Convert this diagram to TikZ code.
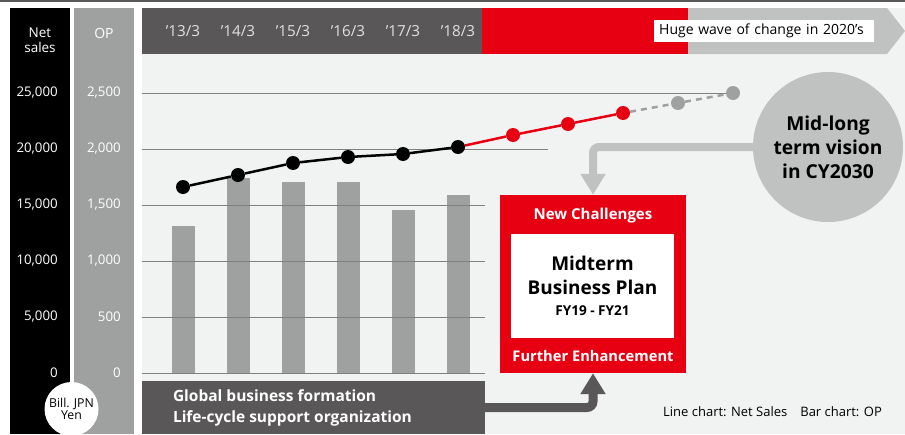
\documentclass[tikz,border=0pt]{standalone}
\usepackage{fontspec}
\setmainfont{Open Sans}
\usetikzlibrary{arrows.meta}

\definecolor{hcdark}{HTML}{595757}
\definecolor{hcred}{HTML}{E60012}
\definecolor{hclight}{HTML}{C0C1C1}
\definecolor{hcbar}{HTML}{9FA0A0}
\definecolor{hcbg}{HTML}{F1F2F2}
\definecolor{hcgrid}{HTML}{808080}

\tikzset{
  axislabel/.style={anchor=east, text=white, inner sep=0pt, font=\fontsize{13.3}{15}\selectfont},
  yearlabel/.style={text=hcbg!90!hcdark, font=\fontsize{15.2}{17}\selectfont},
  salesdot/.style={circle, fill=#1, inner sep=0pt, minimum size=14pt},
  opbar/.style={fill=hcbar},
  gridline/.style={hcgrid, line width=1pt},
  bigarrow/.style={line width=#1, rounded corners=6pt, -{Triangle[length=21pt,width=24pt]}},
}

\begin{document}
\begin{tikzpicture}[x=1pt, y=-1pt]
  \useasboundingbox (0,0) rectangle (905,434);

  % Background
  \fill[white] (0,0) rectangle (905,434);
  \fill[hcbg] (142,8) rectangle (905,434);
  \draw[hcdark, line width=1.5pt] (0,0.75) -- (905,0.75);

  % Axis columns
  \fill[black] (10,8) rectangle (70,434);
  \fill[hcbar] (74,8) rectangle (134,434);
  \node[text=white, align=center, font=\fontsize{13.5}{15}\selectfont] (nshead) at (40,40) {Net\\sales};
  \node[text=white, font=\fontsize{14}{16}\selectfont] (ophead) at (104,33) {OP};
  \foreach \ns/\op [count=\i from 0] in {0/0, {5,000}/500, {10,000}/{1,000}, {15,000}/{1,500}, {20,000}/{2,000}, {25,000}/{2,500}} {
    \node[axislabel] (ns\i) at (58,373-56*\i) {\ns};
    \node[axislabel] (op\i) at (121,373-56*\i) {\op};
  }
  \node[circle, fill=white, minimum size=54pt, inner sep=0pt, align=center, font=\fontsize{12.3}{11.5}\selectfont] (unit) at (71.5,409) {Bill. JPN\\Yen};

  % Year header
  \fill[hcdark] (142,8) rectangle (482,54);
  \fill[hcred] (482,8) rectangle (688,54);
  \fill[hclight] (688,8) -- (887,8) -- (905,31) -- (887,54) -- (688,54) -- cycle;
  \foreach \yr [count=\i from 0] in {13,...,18}
    \node[yearlabel] (y\yr) at (183+55*\i,31) {'\yr/3};
  \node[fill=white, anchor=west, text width=210pt, inner xsep=5pt, minimum height=22pt, align=left, font=\fontsize{14}{16}\selectfont] (wave) at (654,31) {Huge wave of change in 2020's};

  % Bars (OP)
  \foreach \h [count=\i from 0] in {226,178,182,182,210,195}
    \fill[opbar] (171.5+55*\i,\h) rectangle (194.5+55*\i,373);

  % Grid
  \draw[gridline] (142,93) -- (733,93);
  \draw[gridline] (142,149) -- (548,149);
  \foreach \y in {205,261,317,373}
    \draw[gridline] (142,\y) -- (485,\y);

  % Line chart (net sales)
  \foreach \y [count=\i] in {187,175,163,157,154,147}
    \node[salesdot=black] (s\i) at (128+55*\i,\y) {};
  \foreach \y [count=\i from 7] in {135,124,113}
    \node[salesdot=hcred] (s\i) at (128+55*\i,\y) {};
  \foreach \y [count=\i from 10] in {103,93}
    \node[salesdot=hcbar] (s\i) at (128+55*\i,\y) {};
  \draw[line width=2.5pt] (s1) -- (s2) -- (s3) -- (s4) -- (s5) -- (s6);
  \draw[hcred, line width=2.5pt] (s6) -- (s7) -- (s8) -- (s9);
  \draw[hcbar, line width=2.5pt, dash pattern=on 6pt off 5pt] (s9) -- (s10) -- (s11);

  % Vision circle
  \node[circle, fill=hclight, minimum size=150pt, inner sep=0pt, align=center, font=\bfseries\fontsize{19.2}{24}\selectfont] (vision) at (828,147) {Mid-long\\term vision\\in CY2030};

  % Midterm plan
  \node[fill=hcred, minimum width=186pt, minimum height=178pt, inner sep=0pt] (redbox) at (593,284) {};
  \node[text=white, font=\bfseries\fontsize{15}{17}\selectfont] (challenge) at (593,216) {New Challenges};
  \node[fill=white, minimum width=163pt, minimum height=104pt, inner sep=0pt, align=center, font=\bfseries\fontsize{19}{24}\selectfont] (plan) at (592.5,286) {Midterm\\Business Plan\\[-3pt]{\fontsize{13.6}{16}\selectfont FY19 - FY21}};
  \node[text=white, font=\bfseries\fontsize{14.7}{17}\selectfont] (enhance) at (593,356) {Further Enhancement};

  % Business foundation
  \node[fill=hcdark, minimum width=343pt, minimum height=53pt, inner sep=0pt] (bizbox) at (313.5,407.5) {};
  \node[anchor=west, text=white, align=left, inner sep=0pt, font=\bfseries\fontsize{15.5}{21}\selectfont] (biztext) at ([xshift=31pt]bizbox.west) {Global business formation\\Life-cycle support organization};

  % Connectors
  \draw[bigarrow=8pt, hclight] (vision.west) -| (redbox.north);
  \draw[bigarrow=9pt, hcdark] (bizbox.east) -| (redbox.south);

  \node[anchor=west, inner sep=0pt, font=\fontsize{13}{15}\selectfont] (legend) at (663,412) {Line chart: Net Sales\quad Bar chart: OP};
\end{tikzpicture}
\end{document}
